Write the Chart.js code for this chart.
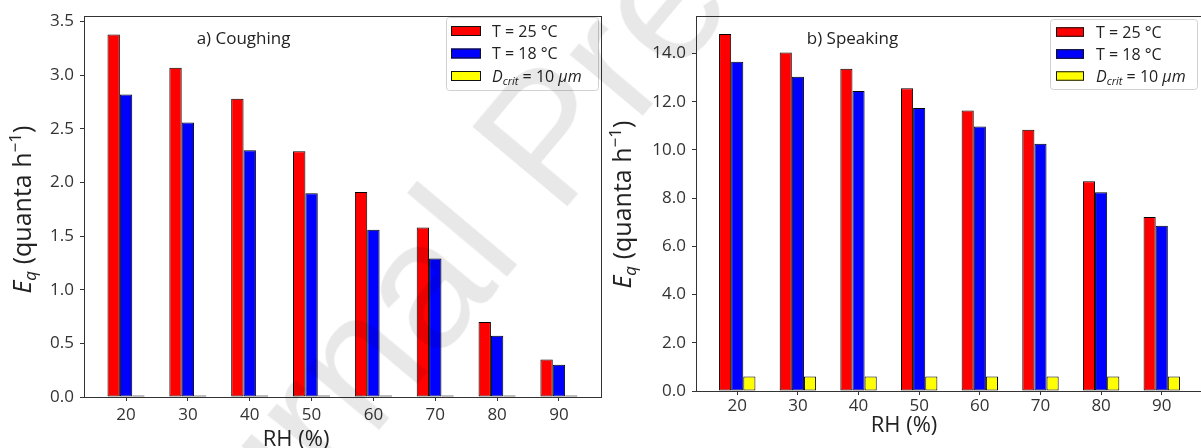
<!DOCTYPE html>
<html>
<head>
<meta charset="utf-8">
<title>Eq vs RH</title>
<script src="https://cdn.jsdelivr.net/npm/chart.js@4.4.1/dist/chart.umd.min.js"></script>
<style>
    html, body { margin: 0; padding: 0; background: #fff; }
    #page { position: relative; width: 1201px; height: 448px; overflow: hidden; }
    #coughChart { position: absolute; left: 0; top: 0; }
    #speakChart { position: absolute; left: 603px; top: 0; }
    #watermark {
        position: absolute; left: 545px; top: 135px;
        transform: translate(-50%, -50%) rotate(-50deg);
        font: 180px 'Liberation Sans', Arial, sans-serif;
        color: rgba(0, 0, 0, 0.09);
        white-space: nowrap; pointer-events: none;
    }
</style>
</head>
<body>
<div id="page">
    <canvas id="coughChart" width="603" height="448"></canvas>
    <canvas id="speakChart" width="603" height="448"></canvas>
    <div id="watermark">Journal Pre-proof</div>
</div>
<script>
// RH categories (x axis)
const rh = [20, 30, 40, 50, 60, 70, 80, 90];

// a) Coughing, quanta/h
const coughT25 = [3.38, 3.07, 2.78, 2.29, 1.91, 1.58, 0.70, 0.35];
const coughT18 = [2.82, 2.56, 2.30, 1.90, 1.56, 1.29, 0.57, 0.30];
const coughDcrit = [0.015, 0.015, 0.015, 0.015, 0.015, 0.015, 0.015, 0.015];

// b) Speaking, quanta/h
const speakT25 = [14.81, 14.04, 13.37, 12.56, 11.64, 10.84, 8.70, 7.22];
const speakT18 = [13.66, 13.04, 12.45, 11.74, 10.97, 10.26, 8.25, 6.86];
const speakDcrit = [0.6, 0.6, 0.6, 0.6, 0.6, 0.6, 0.6, 0.6];

// y tick labels
const coughTicks = [0, 0.5, 1.0, 1.5, 2.0, 2.5, 3.0, 3.5];
const speakTicks = [0, 2, 4, 6, 8, 10, 12, 14];

const seriesNames = ['T = 25 °C', 'T = 18 °C', 'Dcrit = 10 μm'];
const seriesColors = ['#ff0000', '#0000ff', '#ffff00'];

const FONT = "'Open Sans', sans-serif";
Chart.defaults.font.family = FONT;

function partsWidth(ctx, parts) {
    let w = 0;
    parts.forEach(p => { ctx.font = p.font; w += ctx.measureText(p.t).width; });
    return w;
}

function drawParts(ctx, parts, x, y) {
    let cx = x;
    parts.forEach(p => {
        ctx.font = p.font;
        ctx.fillText(p.t, cx, y + (p.dy || 0));
        cx += ctx.measureText(p.t).width;
    });
}

function legendParts(i) {
    if (i < 2) return [{ t: seriesNames[i], font: `16px ${FONT}` }];
    return [
        { t: 'D', font: `italic 16px ${FONT}` },
        { t: 'crit', font: `italic 11px ${FONT}`, dy: 3 },
        { t: ' = 10 ', font: `16px ${FONT}` },
        { t: 'μm', font: `italic 16px ${FONT}` }
    ];
}

// titles, axis labels, legend box and the full frame
const decor = {
    id: 'decor',
    afterDraw(chart, args, o) {
        const ctx = chart.ctx;
        const a = chart.chartArea;
        const xs = chart.scales.x;
        ctx.save();
        ctx.textBaseline = 'alphabetic';
        ctx.fillStyle = '#222';

        // panel title
        ctx.font = `17px ${FONT}`;
        ctx.textAlign = 'center';
        ctx.fillText(o.title, xs.getPixelForValue(o.titleAt), o.titleBase);

        // x title
        ctx.font = `22px ${FONT}`;
        ctx.fillText('RH (%)', xs.getPixelForValue(o.xTitleAt), o.xTitleBase);

        // y title, rotated
        ctx.textAlign = 'left';
        const yParts = [
            { t: 'E', font: `italic 25px ${FONT}` },
            { t: 'q', font: `italic 17px ${FONT}`, dy: 5 },
            { t: ' (quanta h', font: `25px ${FONT}` },
            { t: '\u22121', font: `17px ${FONT}`, dy: -10 },
            { t: ')', font: `25px ${FONT}` }
        ];
        const yw = partsWidth(ctx, yParts);
        ctx.save();
        ctx.translate(o.yTitleX, (a.top + a.bottom) / 2 + o.yTitleShift);
        ctx.rotate(-Math.PI / 2);
        drawParts(ctx, yParts, -yw / 2, 9);
        ctx.restore();

        // frame
        ctx.strokeStyle = '#333';
        ctx.lineWidth = 1;
        ctx.strokeRect(Math.round(a.left) + 0.5, Math.round(a.top) + 0.5,
            Math.round(a.right - a.left), Math.round(a.bottom - a.top));

        // legend
        const L = o.legend;
        const bx = a.right - L.right - L.w;
        const by = L.top;
        ctx.beginPath();
        ctx.roundRect(bx + 0.5, by + 0.5, L.w, L.h, 3);
        ctx.fillStyle = 'rgba(255,255,255,0.8)';
        ctx.fill();
        ctx.strokeStyle = '#d0d0d0';
        ctx.stroke();
        for (let i = 0; i < 3; i++) {
            const cy = by + L.first + i * L.gap;
            ctx.fillStyle = seriesColors[i];
            ctx.fillRect(bx + L.hx, cy - L.hh / 2, L.hw, L.hh);
            ctx.strokeStyle = '#111';
            ctx.strokeRect(bx + L.hx + 0.5, cy - L.hh / 2 + 0.5, L.hw - 1, L.hh - 1);
            ctx.fillStyle = '#222';
            drawParts(ctx, legendParts(i), bx + L.tx, cy + 5.5);
        }
        ctx.restore();
    }
};

function makeChart(id, p) {
    const axisLine = { display: true, color: '#333', width: 1 };
    const tickGrid = { display: true, drawOnChartArea: false, drawTicks: true, tickLength: 4, color: '#333', offset: false };
    return new Chart(document.getElementById(id), {
        type: 'bar',
        data: {
            labels: rh,
            datasets: p.values.map((v, i) => ({
                label: seriesNames[i],
                data: v,
                backgroundColor: seriesColors[i]
            }))
        },
        options: {
            responsive: false,
            animation: false,
            layout: { padding: { top: p.top, right: p.padRight, left: 0, bottom: 0 } },
            datasets: {
                bar: { categoryPercentage: 0.6, barPercentage: 1.0, borderColor: '#000', borderWidth: 1, borderSkipped: false }
            },
            plugins: {
                legend: { display: false },
                tooltip: { enabled: false },
                decor: p.decor
            },
            scales: {
                x: {
                    type: 'linear', min: 13.2, max: 96.8, offset: false,
                    afterBuildTicks: ax => { ax.ticks = rh.map(v => ({ value: v })); },
                    afterFit: s => { s.height = p.xHeight; },
                    grid: tickGrid,
                    border: axisLine,
                    ticks: { font: { size: 17 }, color: '#333', padding: p.xPad, maxRotation: 0, autoSkip: false, callback: v => String(v) }
                },
                y: {
                    min: 0, max: p.yMax,
                    afterBuildTicks: ax => { ax.ticks = p.yTicks.map(v => ({ value: v })); },
                    afterFit: s => { s.width = p.yWidth; },
                    grid: tickGrid,
                    border: axisLine,
                    ticks: { font: { size: 17 }, color: '#333', padding: 6, callback: v => v.toFixed(1) }
                }
            }
        },
        plugins: [decor]
    });
}

makeChart('coughChart', {
    values: [coughT25, coughT18, coughDcrit],
    yMax: 3.55, yTicks: coughTicks,
    top: 12, padRight: 2, yWidth: 84, xHeight: 51, xPad: 4,
    decor: {
        title: 'a) Coughing', titleAt: 39, titleBase: 43.5,
        xTitleAt: 47.5, xTitleBase: 446,
        yTitleX: 22, yTitleShift: 3,
        legend: { w: 152, h: 73, right: 3, top: 17, first: 14, gap: 22.5, hx: 5, hw: 30, hh: 10, tx: 46 }
    }
});

makeChart('speakChart', {
    values: [speakT25, speakT18, speakDcrit],
    yMax: 15.55, yTicks: speakTicks,
    top: 12, padRight: 3, yWidth: 93, xHeight: 57, xPad: 1,
    decor: {
        title: 'b) Speaking', titleAt: 39, titleBase: 44,
        xTitleAt: 47.5, xTitleBase: 432,
        yTitleX: 19, yTitleShift: 1,
        legend: { w: 147, h: 70, right: 6, top: 19, first: 13, gap: 22, hx: 6, hw: 28, hh: 9.5, tx: 46 }
    }
});
</script>
</body>
</html>
